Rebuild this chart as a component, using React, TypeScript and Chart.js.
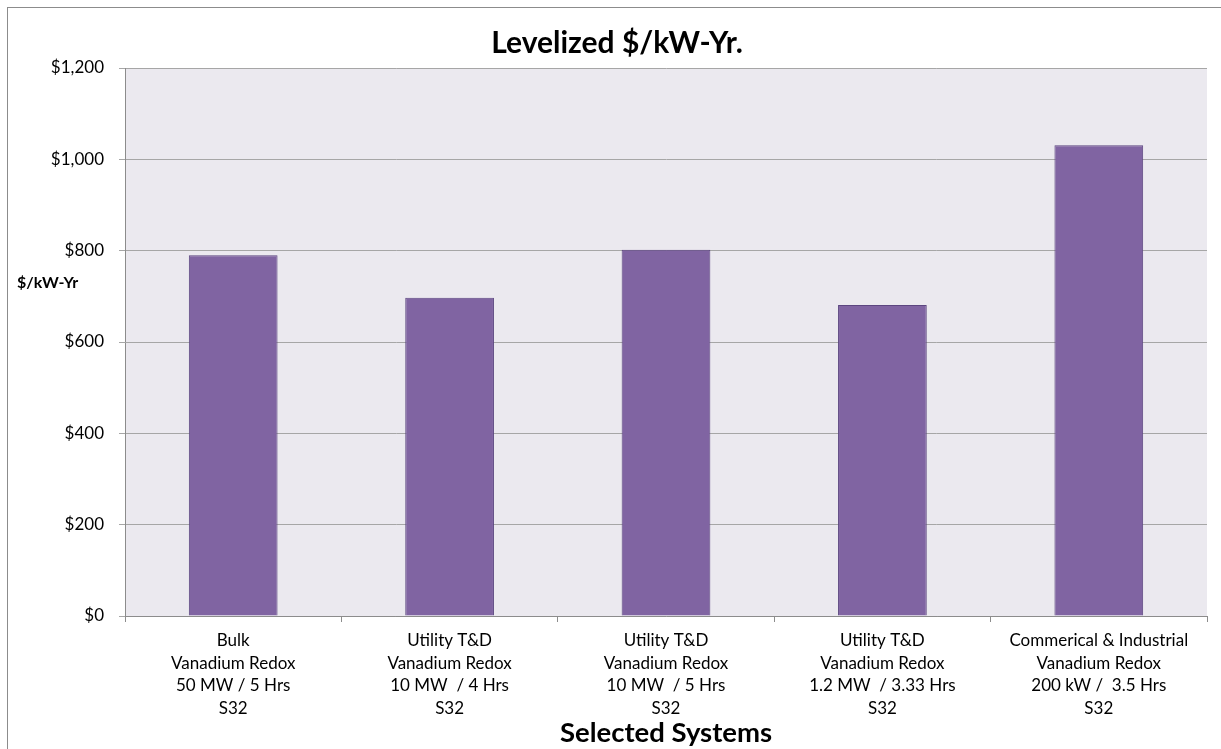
import React, { useEffect, useRef } from "react";
import { Chart, registerables } from "chart.js";

Chart.register(...registerables);

const categories: string[][] = [
  ["Bulk", "Vanadium Redox", "50 MW / 5 Hrs", "S32"],
  ["Utility T&D", "Vanadium Redox", "10 MW  / 4 Hrs", "S32"],
  ["Utility T&D", "Vanadium Redox", "10 MW  / 5 Hrs", "S32"],
  ["Utility T&D", "Vanadium Redox", "1.2 MW  / 3.33 Hrs", "S32"],
  ["Commerical & Industrial", "Vanadium Redox", "200 kW /  3.5 Hrs", "S32"],
];
const levelizedCost: number[] = [790, 697, 802, 681, 1031];

const chartTitle = "Levelized $/kW-Yr.";
const yAxisTitle = "$/kW-Yr";
const xAxisTitle = "Selected Systems";

const FONT = "Lato, 'Open Sans', sans-serif";

// Draws the outer frame, the plot background and the horizontal titles.
const decorations = {
  id: "decorations",
  beforeDraw(chart: any) {
    const { ctx, chartArea } = chart;
    ctx.save();
    ctx.fillStyle = "#ffffff";
    ctx.fillRect(0, 0, chart.width, chart.height);
    ctx.strokeStyle = "#8c8c8c";
    ctx.lineWidth = 1;
    ctx.strokeRect(7.5, 7.5, chart.width + 20, chart.height + 20);
    ctx.fillStyle = "#ebe9ef";
    ctx.fillRect(
      chartArea.left,
      chartArea.top,
      chartArea.right - chartArea.left,
      chartArea.bottom - chartArea.top
    );
    ctx.restore();
  },
  afterDraw(chart: any) {
    const { ctx, chartArea } = chart;
    ctx.save();
    ctx.fillStyle = "#000000";
    ctx.textAlign = "center";
    ctx.textBaseline = "alphabetic";
    ctx.font = `bold 30px ${FONT}`;
    ctx.fillText(chartTitle, 617, 53);
    ctx.font = `bold 27.5px ${FONT}`;
    ctx.fillText(xAxisTitle, (chartArea.left + chartArea.right) / 2, 742);
    ctx.textAlign = "left";
    ctx.font = `bold 16px ${FONT}`;
    ctx.fillText(yAxisTitle, 17, 288);
    ctx.restore();
  },
};

export default function App() {
  const canvasRef = useRef<HTMLCanvasElement | null>(null);

  useEffect(() => {
    if (!canvasRef.current) return;
    const chart = new Chart(canvasRef.current, {
      type: "bar",
      data: {
        labels: categories,
        datasets: [
          {
            data: levelizedCost,
            backgroundColor: "#8064a2",
            borderColor: "#5c4680",
            borderWidth: 1,
            barPercentage: 0.41,
            categoryPercentage: 1,
          },
        ],
      },
      options: {
        animation: false,
        responsive: false,
        devicePixelRatio: 1,
        layout: { padding: { top: 68, right: 14, left: 0, bottom: 0 } },
        plugins: {
          legend: { display: false },
          title: { display: false },
          tooltip: { enabled: false },
        },
        scales: {
          x: {
            grid: {
              offset: true,
              drawOnChartArea: false,
              drawTicks: true,
              tickLength: 6,
              color: "#8c8c8c",
            },
            border: { color: "#8c8c8c" },
            ticks: {
              color: "#000000",
              font: { family: FONT, size: 17, lineHeight: 1.335 },
              padding: 7,
              maxRotation: 0,
              autoSkip: false,
            },
            afterFit(scale: any) {
              scale.height = 133;
            },
          },
          y: {
            min: 0,
            max: 1200,
            grid: {
              color: "#a6a6a6",
              tickLength: 6,
            },
            border: { color: "#8c8c8c" },
            ticks: {
              stepSize: 200,
              color: "#000000",
              font: { family: FONT, size: 17 },
              padding: 15,
              callback: (v: any) => "$" + Number(v).toLocaleString("en-US"),
            },
            afterFit(scale: any) {
              scale.width = 125;
            },
          },
        },
      },
      plugins: [decorations],
    });
    return () => chart.destroy();
  }, []);

  return (
    <div style={{ position: "absolute", left: 0, top: 0, width: 1221, height: 749 }}>
      <canvas ref={canvasRef} width={1221} height={749} />
    </div>
  );
}
